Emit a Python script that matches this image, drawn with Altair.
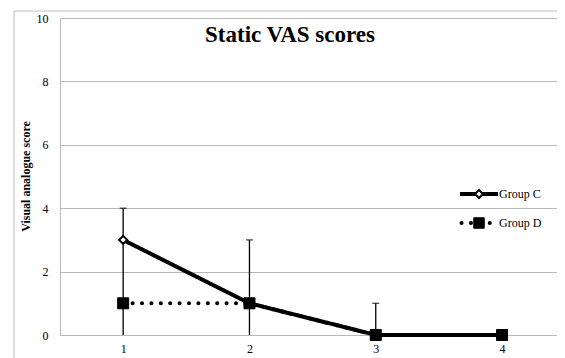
import altair as alt
import pandas as pd

# ---- data ----
times = [1, 2, 3, 4]
groups = ["Group C", "Group D"]
mean_c = [3, 1, 0, 0]
mean_d = [1, 1, 0, 0]
err_low = [0, 0, 0, 0]
err_high = [4, 3, 1, 0]
y_ticks = [0, 2, 4, 6, 8, 10]
x_ticks = [1, 2, 3, 4]
title_text = "Static VAS scores"
y_title = "Visual analogue score"

df = pd.DataFrame({
    "time": times * 2,
    "group": [groups[0]] * len(times) + [groups[1]] * len(times),
    "score": mean_c + mean_d,
})
err = pd.DataFrame({"time": times, "low": err_low, "high": err_high})

W, H = 497, 317
FONT = "Liberation Serif"
GRID = "#b8b8b8"

x_enc = alt.X("time:Q", scale=alt.Scale(domain=[0.5, 4.435], nice=False, zero=False),
              axis=alt.Axis(title=None, values=x_ticks, format="d", grid=False, ticks=False,
                            domainColor=GRID, labelPadding=8,
                            labelFont=FONT, labelFontSize=12, labelColor="black"))


def y_enc(field):
    return alt.Y(f"{field}:Q", scale=alt.Scale(domain=[0, 10]),
                 axis=alt.Axis(values=y_ticks, title=y_title,
                               grid=True, gridColor=GRID, ticks=False,
                               domainColor=GRID, labelPadding=12,
                               labelFont=FONT, labelFontSize=12, labelColor="black",
                               titleFont=FONT, titleFontSize=12, titleFontWeight="bold",
                               titleColor="black", titleX=-28, titleY=158))


one = pd.DataFrame({"k": [0]})

frame = alt.Chart(one).mark_rect(
    fillOpacity=0, stroke="#bdbdbd", strokeWidth=1
).encode(x=alt.value(-46), x2=alt.value(W + 20), y=alt.value(-7), y2=alt.value(H + 40))

title = alt.Chart(pd.DataFrame({"t": [title_text]})).mark_text(
    font=FONT, fontSize=23, fontWeight="bold", color="black", align="center", baseline="alphabetic"
).encode(x=alt.value(230), y=alt.value(24), text="t:N")

bars = alt.Chart(err).mark_rule(color="black", strokeWidth=1.3).encode(
    x=x_enc, y=y_enc("low"), y2="high:Q")
caps = alt.Chart(err).mark_tick(color="black", thickness=1.3, size=7, orient="horizontal").encode(
    x=x_enc, y=y_enc("high"))

lines = alt.Chart(df).mark_line(color="black", strokeWidth=4, strokeCap="round").encode(
    x=x_enc, y=y_enc("score"),
    strokeDash=alt.StrokeDash("group:N", scale=alt.Scale(domain=groups, range=[[1, 0], [0.1, 9.3]]),
                              legend=None))

pts_c = alt.Chart(df).transform_filter(alt.datum.group == groups[0]).mark_point(
    shape="diamond", filled=True, fill="white", stroke="black", strokeWidth=2, size=64, opacity=1
).encode(x=x_enc, y=y_enc("score"))
pts_d = alt.Chart(df).transform_filter(alt.datum.group == groups[1]).mark_point(
    shape="square", filled=True, fill="black", stroke="black", strokeWidth=1, size=121, opacity=1
).encode(x=x_enc, y=y_enc("score"))

# ---- legend (drawn with marks) ----
leg_c = pd.DataFrame({"label": [groups[0]]})
leg_d = pd.DataFrame({"label": [groups[1]]})
LX0, LX1, LXM, LTX = 400, 438, 419, 439
LYC, LYD = 176, 205

leg_c_line = alt.Chart(leg_c).mark_rule(color="black", strokeWidth=4).encode(
    x=alt.value(LX0), x2=alt.value(LX1), y=alt.value(LYC))
leg_c_pt = alt.Chart(leg_c).mark_point(
    shape="diamond", filled=True, fill="white", stroke="black", strokeWidth=2, size=64, opacity=1
).encode(x=alt.value(LXM), y=alt.value(LYC))
leg_c_txt = alt.Chart(leg_c).mark_text(
    font=FONT, fontSize=12, color="black", align="left", baseline="middle"
).encode(x=alt.value(LTX), y=alt.value(LYC), text="label:N")

leg_d_line = alt.Chart(leg_d).mark_rule(color="black", strokeWidth=4, strokeCap="round",
                                        strokeDash=[0.1, 9.3]).encode(
    x=alt.value(LX0 + 1.5), x2=alt.value(LX1 - 7), y=alt.value(LYD))
leg_d_pt = alt.Chart(leg_d).mark_point(
    shape="square", filled=True, fill="black", stroke="black", strokeWidth=1, size=110, opacity=1
).encode(x=alt.value(LXM), y=alt.value(LYD))
leg_d_txt = alt.Chart(leg_d).mark_text(
    font=FONT, fontSize=12, color="black", align="left", baseline="middle"
).encode(x=alt.value(LTX), y=alt.value(LYD), text="label:N")

chart = alt.layer(frame, bars, caps, lines, pts_c, pts_d, title,
                  leg_c_line, leg_c_pt, leg_c_txt, leg_d_line, leg_d_pt, leg_d_txt).properties(
    width=W, height=H,
    autosize=alt.AutoSizeParams(type="none"),
    padding={"left": 52, "top": 10, "right": 0, "bottom": 23},
).configure_view(stroke=None).configure(background="white")

chart.save("out.html", embed_options={"renderer": "svg", "actions": False})
